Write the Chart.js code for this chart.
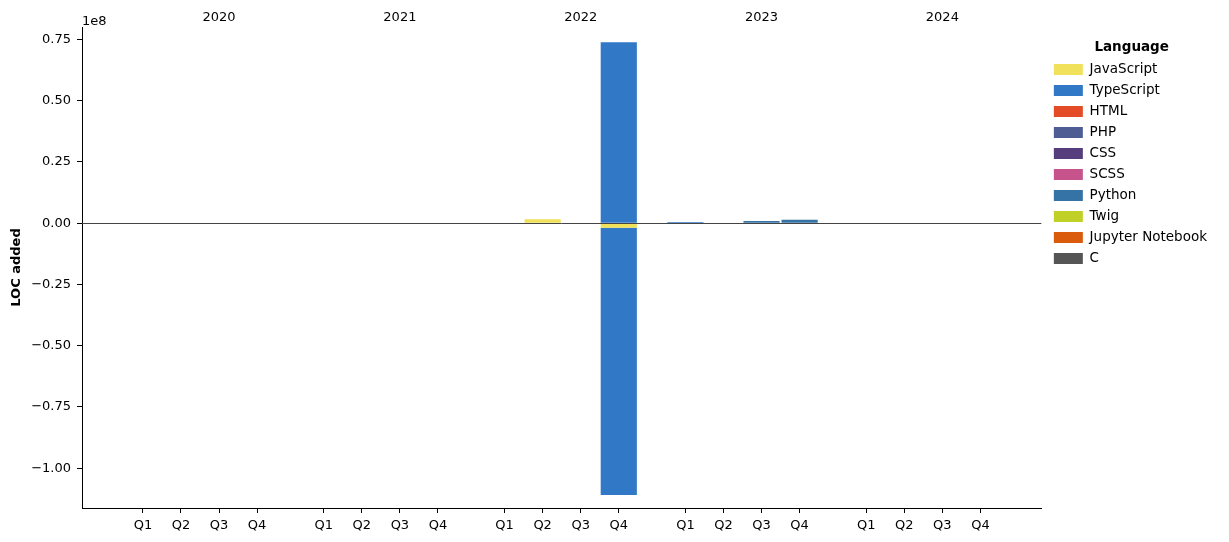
<!DOCTYPE html>
<html>
<head>
<meta charset="utf-8">
<script src="https://cdn.jsdelivr.net/npm/chart.js@4.4.1/dist/chart.umd.min.js"></script>
<style>
  html, body { margin: 0; padding: 0; background: #fff; }
  #wrap { width: 1229px; height: 542px; position: relative; }
</style>
</head>
<body>
<div id="wrap"><canvas id="loc-chart"></canvas></div>
<script>
// --- data ---
const years = ['2020', '2021', '2022', '2023', '2024'];
const quarters = ['Q1', 'Q2', 'Q3', 'Q4'];
const languages = ['JavaScript', 'TypeScript', 'HTML', 'PHP', 'CSS', 'SCSS', 'Python', 'Twig', 'Jupyter Notebook', 'C'];
const langColors = ['#f1e05a', '#3178c6', '#e34c26', '#4f5d95', '#563d7c', '#c6538c', '#3572a5', '#c1d026', '#da5b0b', '#555555'];

// lines added / removed per quarter (2020 Q1 .. 2024 Q4), only non-zero languages listed
const jsAdded      = [0,0,0,0, 0,0,0,0, 0,1600000,0,0, 0,0,0,0, 0,0,0,0];
const jsRemoved    = [0,0,0,0, 0,0,0,0, 0,0,0,-1900000, 0,0,0,0, 0,0,0,0];
const tsAdded      = [0,0,0,0, 0,0,0,0, 0,0,0,73800000, 500000,0,0,0, 0,0,0,0];
const tsRemoved    = [0,0,0,0, 0,0,0,0, 0,0,0,-109000000, 0,0,0,0, 0,0,0,0];
const pyAdded      = [0,0,0,0, 0,0,0,0, 0,0,0,0, 0,0,900000,1350000, 0,0,0,0];
const zeros        = new Array(20).fill(0);

const addedByLang = {JavaScript: jsAdded, TypeScript: tsAdded, Python: pyAdded};
const removedByLang = {JavaScript: jsRemoved, TypeScript: tsRemoved};

const yTicks = [-1e8, -0.75e8, -0.5e8, -0.25e8, 0, 0.25e8, 0.5e8, 0.75e8];

// x positions: quarters side by side, extra gap between years
const yearGap = 0.75;
const xPos = [];
years.forEach((y, yi) => quarters.forEach((q, qi) => xPos.push(yi * (4 + yearGap) + qi)));
const yearPos = years.map((y, yi) => yi * (4 + yearGap) + 2);
const xMin = -1.6, xMax = 4 * (4 + yearGap) + 3 + 1.6;

const FONT = 'DejaVu Sans';

let datasets = [];
languages.forEach((lang, i) => {
    let added = addedByLang[lang] || zeros;
    let removed = removedByLang[lang] || zeros;
    datasets.push({
        label: lang,
        data: added.map((v, k) => ({x: xPos[k], y: v})),
        backgroundColor: langColors[i],
        stack: 's'
    });
    datasets.push({
        label: lang + ' removed',
        data: removed.map((v, k) => ({x: xPos[k], y: v})),
        backgroundColor: langColors[i],
        stack: 's'
    });
});

const extras = {
    id: 'extras',
    afterLayout(chart) {
        // push the legend a little away from the plot
        if (chart.legend) { chart.legend.left += 5; chart.legend.right += 5; }
    },
    afterDatasetsDraw(chart) {
        const c = chart.ctx, a = chart.chartArea, ys = chart.scales.y;
        const y0 = Math.round(ys.getPixelForValue(0)) + 0.5;
        c.save();
        c.strokeStyle = '#444';
        c.lineWidth = 1;
        c.beginPath();
        c.moveTo(a.left, y0);
        c.lineTo(a.right, y0);
        c.stroke();
        c.fillStyle = '#000';
        c.font = '13px ' + FONT;
        c.textAlign = 'left';
        c.textBaseline = 'alphabetic';
        c.fillText('1e8', a.left, a.top - 2);
        c.restore();
    }
};

const ctx = document.getElementById('loc-chart').getContext('2d');
new Chart(ctx, {
    type: 'bar',
    data: { datasets: datasets },
    options: {
        responsive: true,
        maintainAspectRatio: false,
        animation: false,
        layout: { padding: { left: 0, right: 17, top: 0, bottom: 0 } },
        datasets: { bar: { barPercentage: 0.95, categoryPercentage: 1, borderWidth: 0 } },
        scales: {
            x: {
                type: 'linear',
                stacked: true,
                offset: false,
                min: xMin,
                max: xMax,
                afterBuildTicks: s => { s.ticks = xPos.map(v => ({value: v})); },
                afterFit: s => { s.height = 34; },
                ticks: {
                    autoSkip: false,
                    maxRotation: 0,
                    padding: 5,
                    color: '#000',
                    font: { family: FONT, size: 13 },
                    callback: (v, i) => quarters[i % 4]
                },
                grid: { offset: false, drawOnChartArea: false, tickLength: 5, tickColor: '#000' },
                border: { color: '#000', width: 1 }
            },
            x2: {
                type: 'linear',
                position: 'top',
                offset: false,
                min: xMin,
                max: xMax,
                afterBuildTicks: s => { s.ticks = yearPos.map(v => ({value: v})); },
                afterFit: s => { s.height = 27; },
                ticks: {
                    autoSkip: false,
                    maxRotation: 0,
                    padding: 2,
                    color: '#000',
                    font: { family: FONT, size: 13 },
                    callback: (v, i) => years[i]
                },
                grid: { display: false, offset: false, tickLength: 0 },
                border: { display: false }
            },
            y: {
                stacked: true,
                min: -1.162e8,
                max: 0.8e8,
                afterBuildTicks: s => { s.ticks = yTicks.map(v => ({value: v})); },
                afterFit: s => { s.width = 82; },
                ticks: {
                    padding: 6,
                    color: '#000',
                    font: { family: FONT, size: 13 },
                    callback: v => (v < 0 ? '\u2212' : '') + Math.abs(v / 1e8).toFixed(2)
                },
                grid: { drawOnChartArea: false, tickLength: 5, tickColor: '#000' },
                border: { color: '#000', width: 1 },
                title: {
                    display: true,
                    text: 'LOC added',
                    color: '#000',
                    font: { family: FONT, size: 13, weight: 'bold' },
                    padding: { top: 9, bottom: 0 }
                }
            }
        },
        plugins: {
            tooltip: { enabled: false },
            legend: {
                position: 'right',
                align: 'start',
                title: {
                    display: true,
                    text: 'Language',
                    color: '#000',
                    font: { family: FONT, size: 13.5, weight: 'bold' },
                    padding: { top: 41, bottom: -2 }
                },
                labels: {
                    filter: item => !item.text.endsWith(' removed'),
                    boxWidth: 29,
                    boxHeight: 11,
                    padding: 7.5,
                    color: '#000',
                    font: { family: FONT, size: 13.5 }
                }
            }
        }
    },
    plugins: [extras]
});
</script>
</body>
</html>
